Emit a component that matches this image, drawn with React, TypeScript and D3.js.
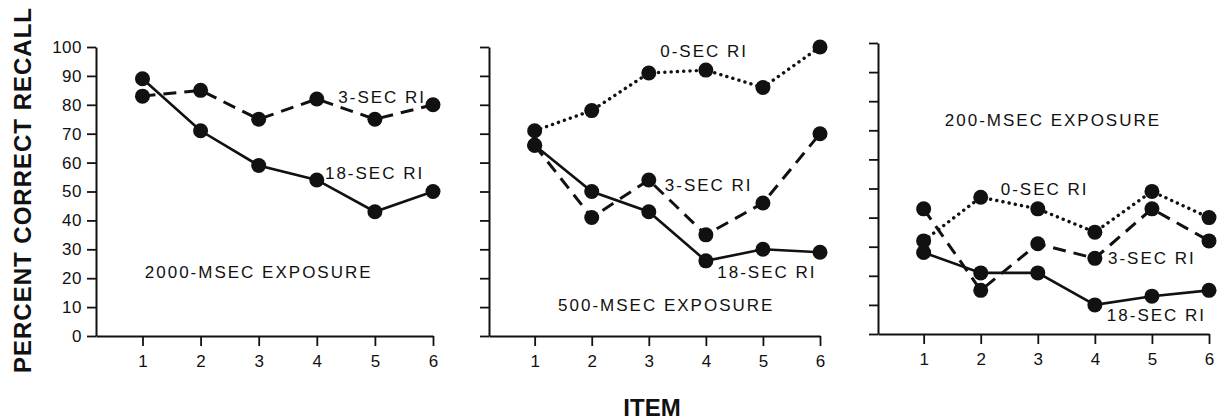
import * as React from "react";
import * as d3 from "d3";

// values
const items = [1, 2, 3, 4, 5, 6];
const yTicks = [0, 10, 20, 30, 40, 50, 60, 70, 80, 90, 100];

const left3sec = [83, 85, 75, 82, 75, 80];
const left18sec = [89, 71, 59, 54, 43, 50];

const mid0sec = [71, 78, 91, 92, 86, 100];
const mid3sec = [66, 41, 54, 35, 46, 70];
const mid18sec = [66, 50, 43, 26, 30, 29];

const right0sec = [32, 47, 43, 35, 49, 40];
const right3sec = [43, 15, 31, 26, 43, 32];
const right18sec = [28, 21, 21, 10, 13, 15];

const ink = "#111";
const font = "'Liberation Sans', Arial, sans-serif";

const styles = {
  solid: { width: 2.6, dash: null },
  dashed: { width: 3, dash: "13 8" },
  dotted: { width: 3.4, dash: "0.1 6.2" }
};

const panels = [
  {
    x0: 96, x1: 433, yBottom: 336, yTop: 47, showLabels: true,
    series: [
      { values: left3sec, kind: "dashed" },
      { values: left18sec, kind: "solid" }
    ],
    notes: [
      { text: "3-SEC RI", x: 4.37, y: 82.4 },
      { text: "18-SEC RI", x: 4.14, y: 56.4 },
      { text: "2000-MSEC EXPOSURE", x: 1.04, y: 21.8 }
    ]
  },
  {
    x0: 489, x1: 820, yBottom: 336, yTop: 47, showLabels: false,
    series: [
      { values: mid0sec, kind: "dotted" },
      { values: mid3sec, kind: "dashed" },
      { values: mid18sec, kind: "solid" }
    ],
    notes: [
      { text: "0-SEC RI", x: 3.2, y: 98.3 },
      { text: "3-SEC RI", x: 3.28, y: 52.2 },
      { text: "18-SEC RI", x: 4.2, y: 21.8 },
      { text: "500-MSEC EXPOSURE", x: 1.41, y: 10.7 }
    ]
  },
  {
    x0: 878, x1: 1209, yBottom: 334, yTop: 43, showLabels: false,
    series: [
      { values: right0sec, kind: "dotted" },
      { values: right3sec, kind: "dashed" },
      { values: right18sec, kind: "solid" }
    ],
    notes: [
      { text: "200-MSEC EXPOSURE", x: 1.37, y: 73.5 },
      { text: "0-SEC RI", x: 2.35, y: 49.5 },
      { text: "3-SEC RI", x: 4.23, y: 26 },
      { text: "18-SEC RI", x: 4.21, y: 6.5 }
    ]
  }
];

function RecallChart() {
  const ref = React.useRef<SVGSVGElement | null>(null);

  React.useEffect(() => {
    const svg = d3.select(ref.current);
    svg.selectAll("*").remove();

    panels.forEach(p => {
      const x = d3.scaleLinear().domain([0.2, 6]).range([p.x0, p.x1]);
      const y = d3.scaleLinear().domain([0, 100]).range([p.yBottom, p.yTop]);
      const g = svg.append("g");

      // y axis
      const yAxis = d3.axisLeft(y).tickValues(yTicks).tickSize(9).tickSizeOuter(0)
        .tickFormat(p.showLabels ? d3.format("d") : () => "");
      const ya = g.append("g").attr("transform", `translate(${p.x0},0)`).call(yAxis);
      ya.select(".domain").attr("stroke", ink).attr("stroke-width", 2);
      ya.selectAll(".tick line").attr("stroke", ink).attr("stroke-width", 1.8);
      ya.selectAll(".tick text")
        .attr("fill", ink).attr("font-family", font).attr("font-size", 17)
        .attr("x", -14).attr("letter-spacing", 0.5);

      // x axis
      const xAxis = d3.axisBottom(x).tickValues(items).tickSize(10).tickSizeOuter(0)
        .tickFormat(d3.format("d"));
      const xa = g.append("g").attr("transform", `translate(0,${p.yBottom})`).call(xAxis);
      xa.select(".domain").attr("stroke", ink).attr("stroke-width", 2);
      xa.selectAll(".tick line").attr("stroke", ink).attr("stroke-width", 1.8);
      xa.selectAll(".tick text")
        .attr("fill", ink).attr("font-family", font).attr("font-size", 17).attr("y", 19);

      const line = d3.line<number>()
        .x((d, i) => x(items[i]))
        .y(d => y(d));

      p.series.forEach(s => {
        const st = styles[s.kind];
        g.append("path")
          .datum(s.values)
          .attr("d", line)
          .attr("fill", "none")
          .attr("stroke", ink)
          .attr("stroke-width", st.width)
          .attr("stroke-linecap", s.kind === "dotted" ? "round" : "butt")
          .attr("stroke-dasharray", st.dash);
      });

      p.series.forEach(s => {
        g.selectAll(null)
          .data(s.values)
          .enter()
          .append("circle")
          .attr("cx", (d, i) => x(items[i]))
          .attr("cy", d => y(d))
          .attr("r", 7.5)
          .attr("fill", ink);
      });

      g.selectAll(null)
        .data(p.notes)
        .enter()
        .append("text")
        .attr("x", d => x(d.x))
        .attr("y", d => y(d.y))
        .attr("dominant-baseline", "central")
        .attr("font-family", font)
        .attr("font-size", 17)
        .attr("letter-spacing", 2)
        .attr("fill", ink)
        .text(d => d.text);
    });

    // axis titles
    svg.append("text")
      .attr("transform", "translate(22,190) rotate(-90)")
      .attr("text-anchor", "middle")
      .attr("dominant-baseline", "central")
      .attr("font-family", font)
      .attr("font-weight", "bold")
      .attr("font-size", 24)
      .attr("letter-spacing", 1)
      .attr("fill", ink)
      .text("PERCENT CORRECT RECALL");

    svg.append("text")
      .attr("x", 652)
      .attr("y", 407)
      .attr("text-anchor", "middle")
      .attr("dominant-baseline", "central")
      .attr("font-family", font)
      .attr("font-weight", "bold")
      .attr("font-size", 24)
      .attr("fill", ink)
      .text("ITEM");
  }, []);

  return (
    <svg
      ref={ref}
      width={1227}
      height={420}
      style={{ position: "absolute", left: 0, top: 0, background: "#fff" }}
    />
  );
}

export default function App() {
  return <RecallChart />;
}
